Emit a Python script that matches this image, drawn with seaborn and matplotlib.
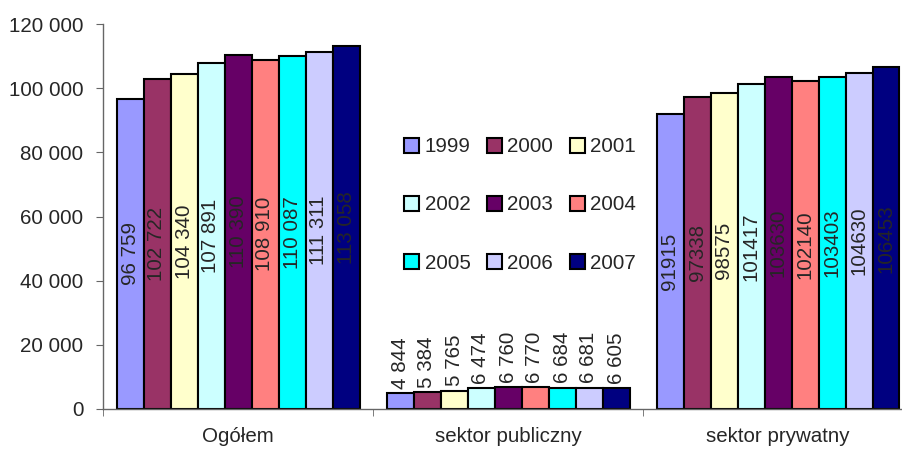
import pandas as pd
import matplotlib.pyplot as plt
import seaborn as sns
from matplotlib.ticker import FuncFormatter, FixedLocator

sektory = ['Ogółem', 'sektor publiczny', 'sektor prywatny']
lata = ['1999', '2000', '2001', '2002', '2003', '2004', '2005', '2006', '2007']
ogolem = [96759, 102722, 104340, 107891, 110390, 108910, 110087, 111311, 113058]
publiczny = [4844, 5384, 5765, 6474, 6760, 6770, 6684, 6681, 6605]
prywatny = [91915, 97338, 98575, 101417, 103630, 102140, 103403, 104630, 106453]
kolory = ['#9999FF', '#993366', '#FFFFCC', '#CCFFFF', '#660066',
          '#FF8080', '#00FFFF', '#CCCCFF', '#000080']

rows = []
for s, vals in zip(sektory, [ogolem, publiczny, prywatny]):
    for rok, v in zip(lata, vals):
        rows.append({'sektor': s, 'rok': rok, 'wartosc': v})
df = pd.DataFrame(rows)

sns.set_style('white')
plt.rcParams['font.family'] = ['Liberation Sans', 'DejaVu Sans']

fs = 14.8
fig = plt.figure(figsize=(9.02, 4.51), dpi=100)
ax = fig.add_axes([103 / 902, 1 - 409 / 451, 810 / 902, 385 / 451])

sns.barplot(data=df, x='sektor', y='wartosc', hue='rok', palette=kolory,
            saturation=1, width=0.9, edgecolor='black', linewidth=1.5,
            ax=ax, legend=True)

def spacja(v):
    return f'{v:,}'.replace(',', ' ')

for i, cont in enumerate(ax.containers):
    center = [spacja(ogolem[i]), '', str(prywatny[i])]
    edge = ['', spacja(publiczny[i]), '']
    ax.bar_label(cont, labels=center, label_type='center', rotation=90, fontsize=fs)
    ax.bar_label(cont, labels=edge, label_type='edge', rotation=90, fontsize=fs, padding=3)

ax.set_ylim(0, 120000)
ax.set_xlim(-0.5, 2.5)
ax.set_yticks(range(0, 120001, 20000))
ax.yaxis.set_major_formatter(FuncFormatter(lambda v, p: spacja(int(v))))
ax.xaxis.set_minor_locator(FixedLocator([-0.5, 0.5, 1.5, 2.5]))
ax.tick_params(axis='x', which='major', length=0, labelsize=fs, pad=13)
ax.tick_params(axis='x', which='minor', length=5, color='#666666', direction='out', bottom=True)
ax.tick_params(axis='y', length=5, color='#666666', direction='out', left=True, labelsize=fs, pad=9)
ax.set_xlabel('')
ax.set_ylabel('')
for side in ['top', 'right']:
    ax.spines[side].set_visible(False)
for side in ['left', 'bottom']:
    ax.spines[side].set_color('#666666')
    ax.spines[side].set_linewidth(1)

# legenda wierszami: 1999 2000 2001 / 2002 ...
handles, labels = ax.get_legend_handles_labels()
order = [0, 3, 6, 1, 4, 7, 2, 5, 8]
ax.legend([handles[k] for k in order], [labels[k] for k in order],
          ncol=3, frameon=False, loc='center', bbox_to_anchor=(0.515, 0.53),
          fontsize=fs, handlelength=0.75, handleheight=0.75, handletextpad=0.25,
          columnspacing=0.8, labelspacing=1.9, title=None)

fig.savefig('out.png', dpi=100)
